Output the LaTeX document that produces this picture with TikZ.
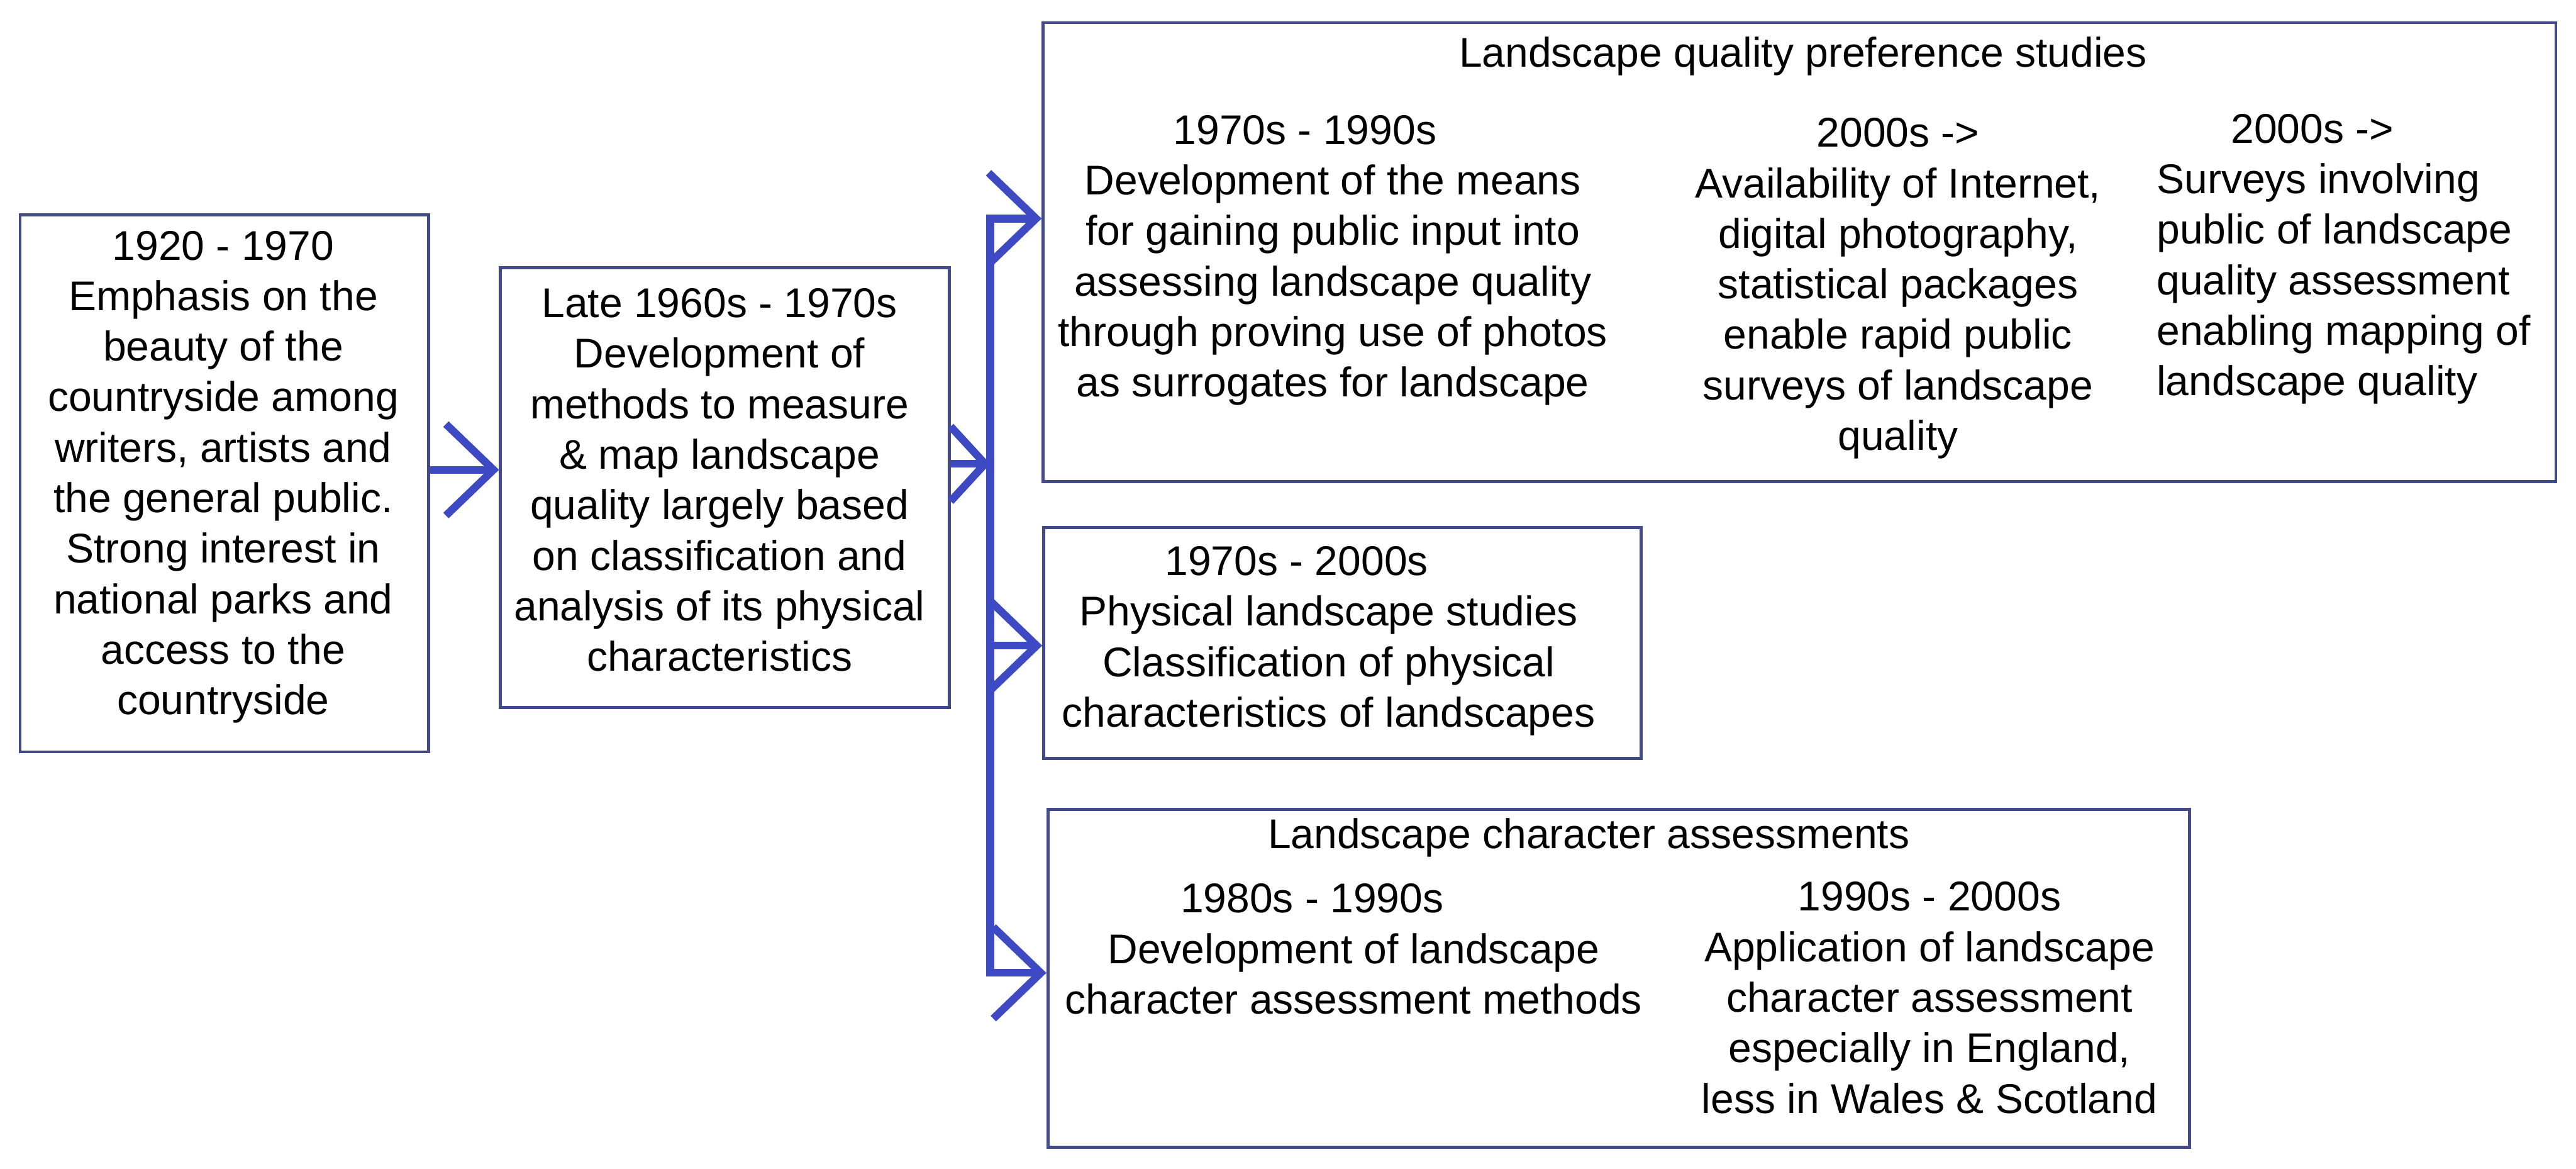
\documentclass[tikz,border=0pt]{standalone}
\usepackage{fontspec}
\setmainfont{Liberation Sans}
\usetikzlibrary{arrows.meta}
\definecolor{boxc}{RGB}{66,74,140}
\definecolor{arrc}{RGB}{62,74,196}
\begin{document}
\begin{tikzpicture}[x=1cm,y=1cm,
  box/.style={draw=boxc, line width=0.05cm, rectangle, inner sep=0pt},
  txt/.style={font=\fontsize{19.9}{24.2}\selectfont, align=center, inner sep=0pt, anchor=base},
  conn/.style={draw=arrc, line width=0.13cm, line join=miter},
  bigtip/.style={-{Straight Barb[sharp,length=0.8cm,width=1.54cm]}},
  bothtip/.style={{Straight Barb[sharp,length=0.8cm,width=1.54cm]}-{Straight Barb[sharp,length=0.8cm,width=1.54cm]}},
  smalltip/.style={-{Straight Barb[sharp,length=0.58cm,width=1.26cm]}}
]
\useasboundingbox[fill=white] (0,0) rectangle (43.39,-19.68);

% boxes
\node[box, minimum width=6.88cm, minimum height=9.04cm] (b1) at (3.78,-8.14) {};
\node[box, minimum width=7.56cm, minimum height=7.40cm] (b2) at (12.21,-8.21) {};
\node[box, minimum width=25.48cm, minimum height=7.73cm] (b3) at (30.31,-4.245) {};
\node[box, minimum width=10.06cm, minimum height=3.89cm] (b4) at (22.61,-10.825) {};
\node[box, minimum width=19.23cm, minimum height=5.69cm] (b5) at (27.265,-16.475) {};

% texts (anchor = baseline of the last line)
\node[txt] (t1) at (3.76,-12.03) {1920 - 1970\\Emphasis on the\\beauty of the\\countryside among\\writers, artists and\\the general public.\\Strong interest in\\national parks and\\access to the\\countryside};
\node[txt] (t2) at (12.12,-11.30) {Late 1960s - 1970s\\Development of\\methods to measure\\\& map landscape\\quality largely based\\on classification and\\analysis of its physical\\characteristics};
\node[txt] (t3) at (30.37,-1.13) {Landscape quality preference studies};
\node[txt] (t3a) at (22.45,-6.68) {1970s - 1990s\rule{0.94cm}{0pt}\\Development of the means\\for gaining public input into\\assessing landscape quality\\through proving use of photos\\as surrogates for landscape};
\node[txt] (t3b) at (31.97,-7.58) {2000s ->\\Availability of Internet,\\digital photography,\\statistical packages\\enable rapid public\\surveys of landscape\\quality};
\node[txt, align=left, anchor=base west] (t3c) at (36.32,-6.66) {\hspace*{1.25cm}2000s ->\\Surveys involving\\public of landscape\\quality assessment\\enabling mapping of\\landscape quality};
\node[txt] (t4) at (22.38,-12.24) {1970s - 2000s\rule{1.08cm}{0pt}\\Physical landscape studies\\Classification of physical\\characteristics of landscapes};
\node[txt] (t5) at (26.76,-14.29) {Landscape character assessments};
\node[txt] (t5a) at (22.80,-17.07) {1980s - 1990s\rule{1.4cm}{0pt}\\Development of landscape\\character assessment methods};
\node[txt] (t5b) at (32.50,-18.74) {1990s - 2000s\\Application of landscape\\character assessment\\especially in England,\\less in Wales \& Scotland};

% connectors
\path (b1.east) ++(0,0.23) coordinate (a1s);
\draw[conn, bigtip] (a1s) -- (a1s -| b2.west);
\coordinate (bartop) at (16.68,-3.68);
\coordinate (barbot) at (16.68,-16.38);
\coordinate (barmid) at (16.68,-10.87);
\path (b2.east) ++(0,0.40) coordinate (a2s);
\draw[conn, smalltip] (a2s) -- (a2s -| bartop);
\draw[conn, bothtip] (bartop -| b3.west) -- (bartop) -- (barbot) -- (barbot -| b5.west);
\draw[conn, bigtip] (barmid) -- (barmid -| b4.west);
\end{tikzpicture}
\end{document}
